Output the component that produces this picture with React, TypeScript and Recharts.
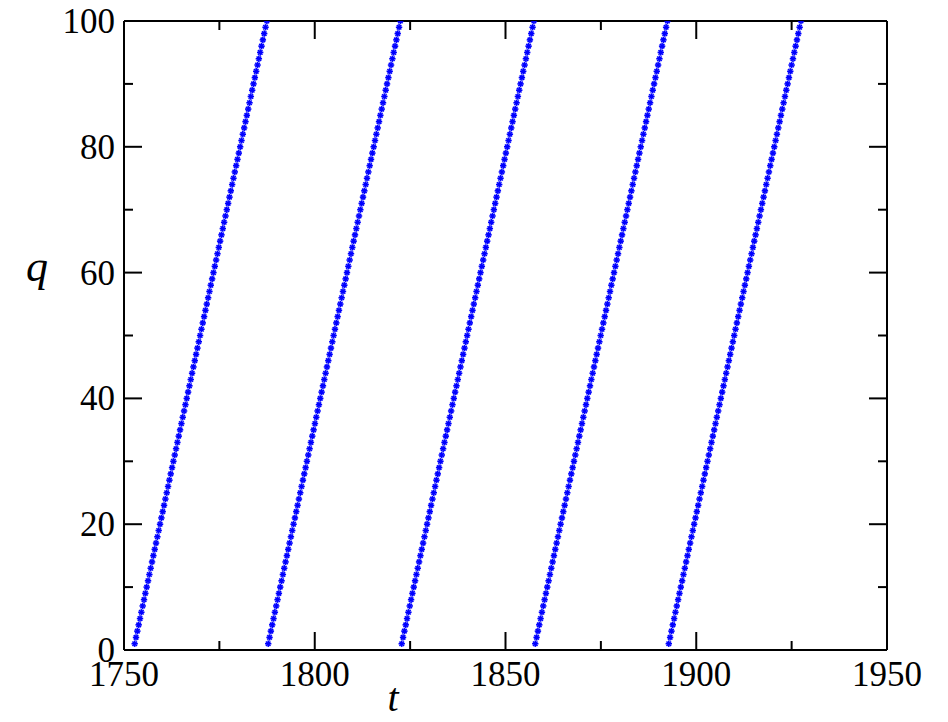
import React from 'react';
import { ScatterChart, Scatter, XAxis, YAxis } from 'recharts';

const qValues = [
  1, 2, 3, 4, 5, 6, 7, 8, 9, 10, 11, 12, 13, 14, 15, 16, 17, 18, 19, 20,
  21, 22, 23, 24, 25, 26, 27, 28, 29, 30, 31, 32, 33, 34, 35, 36, 37, 38, 39, 40,
  41, 42, 43, 44, 45, 46, 47, 48, 49, 50, 51, 52, 53, 54, 55, 56, 57, 58, 59, 60,
  61, 62, 63, 64, 65, 66, 67, 68, 69, 70, 71, 72, 73, 74, 75, 76, 77, 78, 79, 80,
  81, 82, 83, 84, 85, 86, 87, 88, 89, 90, 91, 92, 93, 94, 95, 96, 97, 98, 99, 100,
];

const tCycle1 = [
  1752.8, 1753.15, 1753.5, 1753.85, 1754.2, 1754.55, 1754.9, 1755.25, 1755.6, 1755.95, 1756.3, 1756.65, 1757, 1757.35, 1757.7, 1758.05, 1758.4, 1758.75, 1759.1, 1759.45,
  1759.8, 1760.15, 1760.5, 1760.85, 1761.2, 1761.55, 1761.9, 1762.25, 1762.6, 1762.95, 1763.3, 1763.65, 1764, 1764.35, 1764.7, 1765.05, 1765.4, 1765.75, 1766.1, 1766.45,
  1766.8, 1767.15, 1767.5, 1767.85, 1768.2, 1768.55, 1768.9, 1769.25, 1769.6, 1769.95, 1770.3, 1770.65, 1771, 1771.35, 1771.7, 1772.05, 1772.4, 1772.75, 1773.1, 1773.45,
  1773.8, 1774.15, 1774.5, 1774.85, 1775.2, 1775.55, 1775.9, 1776.25, 1776.6, 1776.95, 1777.3, 1777.65, 1778, 1778.35, 1778.7, 1779.05, 1779.4, 1779.75, 1780.1, 1780.45,
  1780.8, 1781.15, 1781.5, 1781.85, 1782.2, 1782.55, 1782.9, 1783.25, 1783.6, 1783.95, 1784.3, 1784.65, 1785, 1785.35, 1785.7, 1786.05, 1786.4, 1786.75, 1787.1, 1787.45,
];

const tCycle2 = [
  1787.8, 1788.15, 1788.5, 1788.85, 1789.2, 1789.55, 1789.9, 1790.25, 1790.6, 1790.95, 1791.3, 1791.65, 1792, 1792.35, 1792.7, 1793.05, 1793.4, 1793.75, 1794.1, 1794.45,
  1794.8, 1795.15, 1795.5, 1795.85, 1796.2, 1796.55, 1796.9, 1797.25, 1797.6, 1797.95, 1798.3, 1798.65, 1799, 1799.35, 1799.7, 1800.05, 1800.4, 1800.75, 1801.1, 1801.45,
  1801.8, 1802.15, 1802.5, 1802.85, 1803.2, 1803.55, 1803.9, 1804.25, 1804.6, 1804.95, 1805.3, 1805.65, 1806, 1806.35, 1806.7, 1807.05, 1807.4, 1807.75, 1808.1, 1808.45,
  1808.8, 1809.15, 1809.5, 1809.85, 1810.2, 1810.55, 1810.9, 1811.25, 1811.6, 1811.95, 1812.3, 1812.65, 1813, 1813.35, 1813.7, 1814.05, 1814.4, 1814.75, 1815.1, 1815.45,
  1815.8, 1816.15, 1816.5, 1816.85, 1817.2, 1817.55, 1817.9, 1818.25, 1818.6, 1818.95, 1819.3, 1819.65, 1820, 1820.35, 1820.7, 1821.05, 1821.4, 1821.75, 1822.1, 1822.45,
];

const tCycle3 = [
  1822.8, 1823.15, 1823.5, 1823.85, 1824.2, 1824.55, 1824.9, 1825.25, 1825.6, 1825.95, 1826.3, 1826.65, 1827, 1827.35, 1827.7, 1828.05, 1828.4, 1828.75, 1829.1, 1829.45,
  1829.8, 1830.15, 1830.5, 1830.85, 1831.2, 1831.55, 1831.9, 1832.25, 1832.6, 1832.95, 1833.3, 1833.65, 1834, 1834.35, 1834.7, 1835.05, 1835.4, 1835.75, 1836.1, 1836.45,
  1836.8, 1837.15, 1837.5, 1837.85, 1838.2, 1838.55, 1838.9, 1839.25, 1839.6, 1839.95, 1840.3, 1840.65, 1841, 1841.35, 1841.7, 1842.05, 1842.4, 1842.75, 1843.1, 1843.45,
  1843.8, 1844.15, 1844.5, 1844.85, 1845.2, 1845.55, 1845.9, 1846.25, 1846.6, 1846.95, 1847.3, 1847.65, 1848, 1848.35, 1848.7, 1849.05, 1849.4, 1849.75, 1850.1, 1850.45,
  1850.8, 1851.15, 1851.5, 1851.85, 1852.2, 1852.55, 1852.9, 1853.25, 1853.6, 1853.95, 1854.3, 1854.65, 1855, 1855.35, 1855.7, 1856.05, 1856.4, 1856.75, 1857.1, 1857.45,
];

const tCycle4 = [
  1857.8, 1858.15, 1858.5, 1858.85, 1859.2, 1859.55, 1859.9, 1860.25, 1860.6, 1860.95, 1861.3, 1861.65, 1862, 1862.35, 1862.7, 1863.05, 1863.4, 1863.75, 1864.1, 1864.45,
  1864.8, 1865.15, 1865.5, 1865.85, 1866.2, 1866.55, 1866.9, 1867.25, 1867.6, 1867.95, 1868.3, 1868.65, 1869, 1869.35, 1869.7, 1870.05, 1870.4, 1870.75, 1871.1, 1871.45,
  1871.8, 1872.15, 1872.5, 1872.85, 1873.2, 1873.55, 1873.9, 1874.25, 1874.6, 1874.95, 1875.3, 1875.65, 1876, 1876.35, 1876.7, 1877.05, 1877.4, 1877.75, 1878.1, 1878.45,
  1878.8, 1879.15, 1879.5, 1879.85, 1880.2, 1880.55, 1880.9, 1881.25, 1881.6, 1881.95, 1882.3, 1882.65, 1883, 1883.35, 1883.7, 1884.05, 1884.4, 1884.75, 1885.1, 1885.45,
  1885.8, 1886.15, 1886.5, 1886.85, 1887.2, 1887.55, 1887.9, 1888.25, 1888.6, 1888.95, 1889.3, 1889.65, 1890, 1890.35, 1890.7, 1891.05, 1891.4, 1891.75, 1892.1, 1892.45,
];

const tCycle5 = [
  1892.8, 1893.15, 1893.5, 1893.85, 1894.2, 1894.55, 1894.9, 1895.25, 1895.6, 1895.95, 1896.3, 1896.65, 1897, 1897.35, 1897.7, 1898.05, 1898.4, 1898.75, 1899.1, 1899.45,
  1899.8, 1900.15, 1900.5, 1900.85, 1901.2, 1901.55, 1901.9, 1902.25, 1902.6, 1902.95, 1903.3, 1903.65, 1904, 1904.35, 1904.7, 1905.05, 1905.4, 1905.75, 1906.1, 1906.45,
  1906.8, 1907.15, 1907.5, 1907.85, 1908.2, 1908.55, 1908.9, 1909.25, 1909.6, 1909.95, 1910.3, 1910.65, 1911, 1911.35, 1911.7, 1912.05, 1912.4, 1912.75, 1913.1, 1913.45,
  1913.8, 1914.15, 1914.5, 1914.85, 1915.2, 1915.55, 1915.9, 1916.25, 1916.6, 1916.95, 1917.3, 1917.65, 1918, 1918.35, 1918.7, 1919.05, 1919.4, 1919.75, 1920.1, 1920.45,
  1920.8, 1921.15, 1921.5, 1921.85, 1922.2, 1922.55, 1922.9, 1923.25, 1923.6, 1923.95, 1924.3, 1924.65, 1925, 1925.35, 1925.7, 1926.05, 1926.4, 1926.75, 1927.1, 1927.45,
];

const cycles = [tCycle1, tCycle2, tCycle3, tCycle4, tCycle5];

const xTicks = [1750, 1775, 1800, 1825, 1850, 1875, 1900, 1925, 1950];
const yTicks = [0, 10, 20, 30, 40, 50, 60, 70, 80, 90, 100];
const xMajorStep = 50;
const yMajorStep = 20;

const FONT = '"Liberation Serif", "Times New Roman", serif';
const MAJOR = 18;
const MINOR = 9;

const Star = (props: any) => {
  const { cx, cy } = props;
  if (cx == null || cy == null) return null;
  const r = 3.2;
  const d = r * 0.7071;
  return (
    <g stroke="#0000ff" strokeWidth={1.6}>
      <line x1={cx - r} y1={cy} x2={cx + r} y2={cy} />
      <line x1={cx} y1={cy - r} x2={cx} y2={cy + r} />
      <line x1={cx - d} y1={cy - d} x2={cx + d} y2={cy + d} />
      <line x1={cx - d} y1={cy + d} x2={cx + d} y2={cy - d} />
    </g>
  );
};

const BottomTick = (props: any) => {
  const { x, y, payload } = props;
  const v = payload.value;
  const major = v % xMajorStep === 0;
  return (
    <g>
      <line x1={x} y1={y} x2={x} y2={y - (major ? MAJOR : MINOR)} stroke="#000" strokeWidth={2} />
      {major && (
        <text x={x} y={y + 36} textAnchor="middle" fontFamily={FONT} fontSize={35} fill="#000">
          {v}
        </text>
      )}
    </g>
  );
};

const TopTick = (props: any) => {
  const { x, y, payload } = props;
  const major = payload.value % xMajorStep === 0;
  return <line x1={x} y1={y} x2={x} y2={y + (major ? MAJOR : MINOR)} stroke="#000" strokeWidth={2} />;
};

const LeftTick = (props: any) => {
  const { x, y, payload } = props;
  const v = payload.value;
  const major = v % yMajorStep === 0;
  return (
    <g>
      <line x1={x} y1={y} x2={x + (major ? MAJOR : MINOR)} y2={y} stroke="#000" strokeWidth={2} />
      {major && (
        <text x={x - 9} y={y + 12} textAnchor="end" fontFamily={FONT} fontSize={35} fill="#000">
          {v}
        </text>
      )}
    </g>
  );
};

const RightTick = (props: any) => {
  const { x, y, payload } = props;
  const major = payload.value % yMajorStep === 0;
  return <line x1={x} y1={y} x2={x - (major ? MAJOR : MINOR)} y2={y} stroke="#000" strokeWidth={2} />;
};

export default function App() {
  const series = cycles.map((ts) => qValues.map((q, i) => ({ t: ts[i], q })));
  return (
    <div style={{ position: 'absolute', left: 0, top: 0, width: 948, height: 722, background: '#fff' }}>
      <ScatterChart width={948} height={722} margin={{ top: 20, right: 60, bottom: 32, left: 64 }}>
        <XAxis
          xAxisId="b"
          dataKey="t"
          type="number"
          domain={[1750, 1950]}
          ticks={xTicks}
          interval={0}
          allowDataOverflow
          height={40}
          tickLine={false}
          tickSize={0}
          tickMargin={0}
          axisLine={{ stroke: '#000', strokeWidth: 2 }}
          tick={BottomTick}
          label={{
            content: (p: any) => {
              const vb = p.viewBox || {};
              return (
                <text
                  x={vb.x + vb.width * 0.3526}
                  y={vb.y + 61}
                  textAnchor="middle"
                  fontFamily={FONT}
                  fontStyle="italic"
                  fontSize={40}
                  fill="#000"
                >
                  t
                </text>
              );
            },
          }}
        />
        <XAxis
          xAxisId="top"
          orientation="top"
          dataKey="t"
          type="number"
          domain={[1750, 1950]}
          ticks={xTicks}
          interval={0}
          allowDataOverflow
          height={1}
          tickLine={false}
          tickSize={0}
          tickMargin={0}
          axisLine={{ stroke: '#000', strokeWidth: 2 }}
          tick={TopTick}
        />
        <YAxis
          yAxisId="l"
          dataKey="q"
          type="number"
          domain={[0, 100]}
          ticks={yTicks}
          interval={0}
          allowDataOverflow
          width={60}
          tickLine={false}
          tickSize={0}
          tickMargin={0}
          axisLine={{ stroke: '#000', strokeWidth: 2 }}
          tick={LeftTick}
          label={{
            content: (p: any) => {
              const vb = p.viewBox || {};
              return (
                <text
                  x={37}
                  y={vb.y + vb.height * 0.396 + 11}
                  textAnchor="middle"
                  fontFamily={FONT}
                  fontStyle="italic"
                  fontSize={44}
                  fill="#000"
                >
                  q
                </text>
              );
            },
          }}
        />
        <YAxis
          yAxisId="r"
          orientation="right"
          dataKey="q"
          type="number"
          domain={[0, 100]}
          ticks={yTicks}
          interval={0}
          allowDataOverflow
          width={1}
          tickLine={false}
          tickSize={0}
          tickMargin={0}
          axisLine={{ stroke: '#000', strokeWidth: 2 }}
          tick={RightTick}
        />
        {series.map((d, i) => (
          <Scatter
            key={i}
            data={d}
            xAxisId={i < 3 ? 'b' : 'top'}
            yAxisId={i < 3 ? 'l' : 'r'}
            shape={Star}
            isAnimationActive={false}
          />
        ))}
      </ScatterChart>
    </div>
  );
}
